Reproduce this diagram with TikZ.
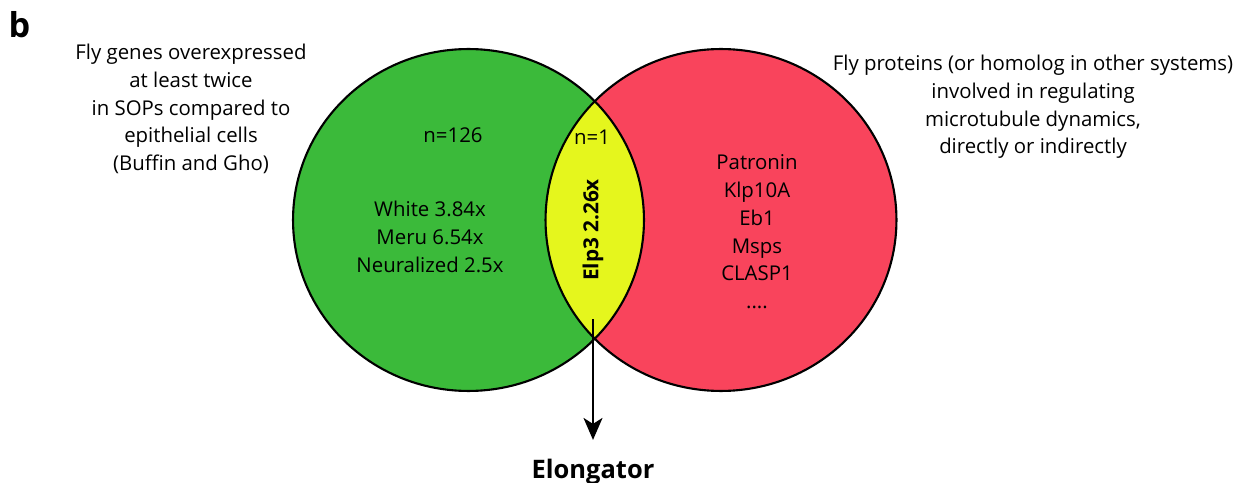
\documentclass[tikz,border=0pt]{standalone}
\usepackage{fontspec}
\setmainfont{Open Sans}
\usetikzlibrary{arrows.meta}
\definecolor{vgreen}{RGB}{59,186,58}
\definecolor{vred}{RGB}{249,68,92}
\definecolor{vyellow}{RGB}{229,246,29}
\begin{document}
\begin{tikzpicture}[x=0.02cm,y=-0.02cm,
  txt/.style={font=\fontsize{11.6}{15.8}\selectfont, align=center, inner sep=0pt},
  boldtxt/.style={font=\fontsize{11.8}{15.6}\selectfont\bfseries, align=center, inner sep=0pt},
  outline/.style={draw=black, line width=1.2pt},
  connector/.style={line width=1.1pt, -{Stealth[length=0.44cm, width=0.38cm, inset=0.12cm]}}]
\useasboundingbox (0,0) rectangle (1249,483);
\coordinate (L) at (468.5,220);
\coordinate (R) at (721,220);
\fill[vgreen] (L) ellipse [x radius=3.51cm, y radius=3.42cm];
\fill[vred] (R) ellipse [x radius=3.51cm, y radius=3.42cm];
\begin{scope}
  \clip (L) ellipse [x radius=3.51cm, y radius=3.42cm];
  \fill[vyellow] (R) ellipse [x radius=3.51cm, y radius=3.42cm];
\end{scope}
\draw[outline] (L) ellipse [x radius=3.51cm, y radius=3.42cm];
\draw[outline] (R) ellipse [x radius=3.51cm, y radius=3.42cm];

\node[font=\fontsize{19.5}{22}\selectfont\bfseries, inner sep=0pt] (panel) at (19.5,25) {b};
\node[txt] (ltxt) at (191,109) {Fly genes overexpressed\\at least twice\\in SOPs compared to\\epithelial cells\\(Buffin and Gho)};
\node[txt] (rtxt) at (1033,107) {Fly proteins (or homolog in other systems)\\involved in regulating\\microtubule dynamics,\\directly or indirectly};
\node[txt] (n126) at (453,135) {n=126};
\node[txt] (lgenes) at (430,237) {White 3.84x\\Meru 6.54x\\Neuralized 2.5x};
\node[txt] (n1) at (592,137) {n=1};
\node[boldtxt, rotate=90] (elp) at (593,230) {Elp3 2.26x};
\node[txt] (rgenes) at (757,232) {Patronin\\Klp10A\\Eb1\\Msps\\CLASP1\\....};
\coordinate (astart) at (593,319);
\node[font=\fontsize{14.5}{17}\selectfont\bfseries, inner sep=0pt] (elong) at (593,472) {Elongator};
\draw[connector, shorten >=0.38cm] (astart) -- (astart |- elong.north);
\end{tikzpicture}
\end{document}
